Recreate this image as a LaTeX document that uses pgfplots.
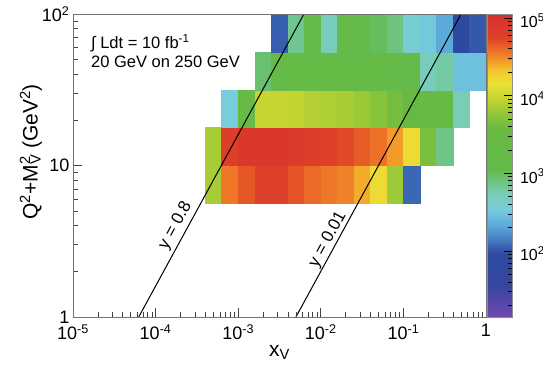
\documentclass[border=0pt]{standalone}
\usepackage{pgfplots}
\pgfplotsset{compat=1.18}
\usepackage{fontspec}
\setmainfont{Liberation Sans}

\pgfplotsset{colormap={rootpal}{
rgb255(0cm)=(112,75,178)
rgb255(2cm)=(85,70,168)
rgb255(4cm)=(55,70,160)
rgb255(8cm)=(45,75,160)
rgb255(9cm)=(55,95,175)
rgb255(10cm)=(70,125,195)
rgb255(12cm)=(95,175,220)
rgb255(14cm)=(120,205,220)
rgb255(16cm)=(120,205,180)
rgb255(18cm)=(105,192,110)
rgb255(19cm)=(100,187,75)
rgb255(24cm)=(105,185,65)
rgb255(26cm)=(140,197,58)
rgb255(28cm)=(195,212,50)
rgb255(30cm)=(232,224,55)
rgb255(31cm)=(242,212,50)
rgb255(32cm)=(245,190,45)
rgb255(33cm)=(242,155,40)
rgb255(34cm)=(238,120,40)
rgb255(35cm)=(232,92,40)
rgb255(36cm)=(222,65,42)
rgb255(39cm)=(212,48,45)
}}

\begin{document}
\begin{tikzpicture}
\begin{axis}[
  scale only axis, width=413pt, height=303pt,
  at={(0pt,0pt)}, anchor=south west,
  xmode=log, ymode=log,
  xmin=1e-5, xmax=1, ymin=1, ymax=100,
  axis on top,
  colormap name=rootpal,
  point meta min=1.15, point meta max=5.05,
  xtick={1e-5,1e-4,1e-3,1e-2,1e-1,1},
  xticklabels={10\textsuperscript{-5},10\textsuperscript{-4},10\textsuperscript{-3},10\textsuperscript{-2},10\textsuperscript{-1},1},
  ytick={1,10,100},
  yticklabels={1,10,10\textsuperscript{2}},
  tick align=inside, xtick pos=bottom, ytick pos=left,
  major tick length=9pt, minor tick length=5pt,
  tick style={black!75, line width=0.6pt},
  axis line style={black!55, line width=0.8pt},
  ticklabel style={font=\fontsize{18}{20}\selectfont},
  xticklabel style={yshift=-4pt},
  xlabel={x\textsubscript{V}},
  ylabel={Q\textsuperscript{2}+M\rlap{\textsuperscript{2}}\textsubscript{V} (GeV\textsuperscript{2})},
  every axis x label/.style={at={(axis description cs:0.5,-0.118)}, anchor=center, font=\fontsize{21}{24}\selectfont},
  every axis y label/.style={at={(axis description cs:-0.102,0.545)}, anchor=center, rotate=90, font=\fontsize{21}{24}\selectfont},
]
\addplot[patch, patch type=rectangle, shader=flat, point meta=explicit]
 table[x expr=10^(\thisrow{x}), y expr=10^(\thisrow{y}), meta=c, row sep=\\]{
x y c\\
-3.4 .75 3.85\\ -3.2 .75 3.85\\ -3.2 1 3.85\\ -3.4 1 3.85\\
-3.2 .75 4.55\\ -3.0 .75 4.55\\ -3.0 1 4.55\\ -3.2 1 4.55\\
-3.0 .75 4.67\\ -2.8 .75 4.67\\ -2.8 1 4.67\\ -3.0 1 4.67\\
-2.8 .75 4.75\\ -2.6 .75 4.75\\ -2.6 1 4.75\\ -2.8 1 4.75\\
-2.6 .75 4.75\\ -2.4 .75 4.75\\ -2.4 1 4.75\\ -2.6 1 4.75\\
-2.4 .75 4.68\\ -2.2 .75 4.68\\ -2.2 1 4.68\\ -2.4 1 4.68\\
-2.2 .75 4.60\\ -2.0 .75 4.60\\ -2.0 1 4.60\\ -2.2 1 4.60\\
-2.0 .75 4.55\\ -1.8 .75 4.55\\ -1.8 1 4.55\\ -2.0 1 4.55\\
-1.8 .75 4.52\\ -1.6 .75 4.52\\ -1.6 1 4.52\\ -1.8 1 4.52\\
-1.6 .75 4.40\\ -1.4 .75 4.40\\ -1.4 1 4.40\\ -1.6 1 4.40\\
-1.4 .75 4.20\\ -1.2 .75 4.20\\ -1.2 1 4.20\\ -1.4 1 4.20\\
-1.2 .75 3.82\\ -1.0 .75 3.82\\ -1.0 1 3.82\\ -1.2 1 3.82\\
-1.0 .75 2.08\\ -0.8 .75 2.08\\ -0.8 1 2.08\\ -1.0 1 2.08\\
-3.4 1 3.85\\ -3.2 1 3.85\\ -3.2 1.25 3.85\\ -3.4 1.25 3.85\\
-3.2 1 4.80\\ -3.0 1 4.80\\ -3.0 1.25 4.80\\ -3.2 1.25 4.80\\
-3.0 1 4.90\\ -2.8 1 4.90\\ -2.8 1.25 4.90\\ -3.0 1.25 4.90\\
-2.8 1 4.90\\ -2.6 1 4.90\\ -2.6 1.25 4.90\\ -2.8 1.25 4.90\\
-2.6 1 4.90\\ -2.4 1 4.90\\ -2.4 1.25 4.90\\ -2.6 1.25 4.90\\
-2.4 1 4.85\\ -2.2 1 4.85\\ -2.2 1.25 4.85\\ -2.4 1.25 4.85\\
-2.2 1 4.80\\ -2.0 1 4.80\\ -2.0 1.25 4.80\\ -2.2 1.25 4.80\\
-2.0 1 4.75\\ -1.8 1 4.75\\ -1.8 1.25 4.75\\ -2.0 1.25 4.75\\
-1.8 1 4.72\\ -1.6 1 4.72\\ -1.6 1.25 4.72\\ -1.8 1.25 4.72\\
-1.6 1 4.65\\ -1.4 1 4.65\\ -1.4 1.25 4.65\\ -1.6 1.25 4.65\\
-1.4 1 4.57\\ -1.2 1 4.57\\ -1.2 1.25 4.57\\ -1.4 1.25 4.57\\
-1.2 1 4.45\\ -1.0 1 4.45\\ -1.0 1.25 4.45\\ -1.2 1.25 4.45\\
-1.0 1 4.20\\ -0.8 1 4.20\\ -0.8 1.25 4.20\\ -1.0 1.25 4.20\\
-0.8 1 3.65\\ -0.6 1 3.65\\ -0.6 1.25 3.65\\ -0.8 1.25 3.65\\
-0.6 1 2.88\\ -0.4 1 2.88\\ -0.4 1.25 2.88\\ -0.6 1.25 2.88\\
-3.2 1.25 2.55\\ -3.0 1.25 2.55\\ -3.0 1.5 2.55\\ -3.2 1.5 2.55\\
-3.0 1.25 3.40\\ -2.8 1.25 3.40\\ -2.8 1.5 3.40\\ -3.0 1.5 3.40\\
-2.8 1.25 3.97\\ -2.6 1.25 3.97\\ -2.6 1.5 3.97\\ -2.8 1.5 3.97\\
-2.6 1.25 3.97\\ -2.4 1.25 3.97\\ -2.4 1.5 3.97\\ -2.6 1.5 3.97\\
-2.4 1.25 3.95\\ -2.2 1.25 3.95\\ -2.2 1.5 3.95\\ -2.4 1.5 3.95\\
-2.2 1.25 3.90\\ -2.0 1.25 3.90\\ -2.0 1.5 3.90\\ -2.2 1.5 3.90\\
-2.0 1.25 3.87\\ -1.8 1.25 3.87\\ -1.8 1.5 3.87\\ -2.0 1.5 3.87\\
-1.8 1.25 3.85\\ -1.6 1.25 3.85\\ -1.6 1.5 3.85\\ -1.8 1.5 3.85\\
-1.6 1.25 3.80\\ -1.4 1.25 3.80\\ -1.4 1.5 3.80\\ -1.6 1.5 3.80\\
-1.4 1.25 3.72\\ -1.2 1.25 3.72\\ -1.2 1.5 3.72\\ -1.4 1.5 3.72\\
-1.2 1.25 3.62\\ -1.0 1.25 3.62\\ -1.0 1.5 3.62\\ -1.2 1.5 3.62\\
-1.0 1.25 3.45\\ -0.8 1.25 3.45\\ -0.8 1.5 3.45\\ -1.0 1.5 3.45\\
-0.8 1.25 3.35\\ -0.6 1.25 3.35\\ -0.6 1.5 3.35\\ -0.8 1.5 3.35\\
-0.6 1.25 3.30\\ -0.4 1.25 3.30\\ -0.4 1.5 3.30\\ -0.6 1.5 3.30\\
-0.4 1.25 2.75\\ -0.2 1.25 2.75\\ -0.2 1.5 2.75\\ -0.4 1.5 2.75\\
-2.8 1.5 2.95\\ -2.6 1.5 2.95\\ -2.6 1.75 2.95\\ -2.8 1.75 2.95\\
-2.6 1.5 3.20\\ -2.4 1.5 3.20\\ -2.4 1.75 3.20\\ -2.6 1.75 3.20\\
-2.4 1.5 3.30\\ -2.2 1.5 3.30\\ -2.2 1.75 3.30\\ -2.4 1.75 3.30\\
-2.2 1.5 3.30\\ -2.0 1.5 3.30\\ -2.0 1.75 3.30\\ -2.2 1.75 3.30\\
-2.0 1.5 3.30\\ -1.8 1.5 3.30\\ -1.8 1.75 3.30\\ -2.0 1.75 3.30\\
-1.8 1.5 3.30\\ -1.6 1.5 3.30\\ -1.6 1.75 3.30\\ -1.8 1.75 3.30\\
-1.6 1.5 3.30\\ -1.4 1.5 3.30\\ -1.4 1.75 3.30\\ -1.6 1.75 3.30\\
-1.4 1.5 3.30\\ -1.2 1.5 3.30\\ -1.2 1.75 3.30\\ -1.4 1.75 3.30\\
-1.2 1.5 3.25\\ -1.0 1.5 3.25\\ -1.0 1.75 3.25\\ -1.2 1.75 3.25\\
-1.0 1.5 3.10\\ -0.8 1.5 3.10\\ -0.8 1.75 3.10\\ -1.0 1.75 3.10\\
-0.8 1.5 2.72\\ -0.6 1.5 2.72\\ -0.6 1.75 2.72\\ -0.8 1.75 2.72\\
-0.6 1.5 2.80\\ -0.4 1.5 2.80\\ -0.4 1.75 2.80\\ -0.6 1.75 2.80\\
-0.4 1.5 2.47\\ -0.2 1.5 2.47\\ -0.2 1.75 2.47\\ -0.4 1.75 2.47\\
-0.2 1.5 2.47\\ 0.0 1.5 2.47\\ 0.0 1.75 2.47\\ -0.2 1.75 2.47\\
-2.6 1.75 2.05\\ -2.4 1.75 2.05\\ -2.4 2 2.05\\ -2.6 2 2.05\\
-2.4 1.75 2.85\\ -2.2 1.75 2.85\\ -2.2 2 2.85\\ -2.4 2 2.85\\
-2.2 1.75 3.10\\ -2.0 1.75 3.10\\ -2.0 2 3.10\\ -2.2 2 3.10\\
-2.0 1.75 2.72\\ -1.8 1.75 2.72\\ -1.8 2 2.72\\ -2.0 2 2.72\\
-1.8 1.75 3.15\\ -1.6 1.75 3.15\\ -1.6 2 3.15\\ -1.8 2 3.15\\
-1.6 1.75 3.10\\ -1.4 1.75 3.10\\ -1.4 2 3.10\\ -1.6 2 3.10\\
-1.4 1.75 3.00\\ -1.2 1.75 3.00\\ -1.2 2 3.00\\ -1.4 2 3.00\\
-1.2 1.75 2.90\\ -1.0 1.75 2.90\\ -1.0 2 2.90\\ -1.2 2 2.90\\
-1.0 1.75 2.60\\ -0.8 1.75 2.60\\ -0.8 2 2.60\\ -1.0 2 2.60\\
-0.8 1.75 2.52\\ -0.6 1.75 2.52\\ -0.6 2 2.52\\ -0.8 2 2.52\\
-0.6 1.75 2.33\\ -0.4 1.75 2.33\\ -0.4 2 2.33\\ -0.6 2 2.33\\
-0.4 1.75 1.90\\ -0.2 1.75 1.90\\ -0.2 2 1.90\\ -0.4 2 1.90\\
-0.2 1.75 2.02\\ 0.0 1.75 2.02\\ 0.0 2 2.02\\ -0.2 2 2.02\\
};
\addplot[black, line width=1pt] coordinates {(6.25e-5,1) (6.25e-3,100)};
\addplot[black, line width=1pt] coordinates {(5e-3,1) (0.5,100)};
\node[rotate=61.4, anchor=south, inner sep=3.5pt, font=\fontsize{17}{19}\selectfont] at (axis cs:2.31e-4,3.70) {y = 0.8};
\node[rotate=61.4, anchor=south, inner sep=1pt, font=\fontsize{17}{19}\selectfont] at (axis cs:0.0152,3.04) {y = 0.01};
\node[anchor=west, inner sep=0pt, font=\fontsize{16.5}{19}\selectfont] at (axis description cs:0.0436,0.904) {∫ Ldt = 10 fb\textsuperscript{-1}};
\node[anchor=west, inner sep=0pt, font=\fontsize{16.5}{19}\selectfont] at (axis description cs:0.0436,0.842) {20 GeV on 250 GeV};
\end{axis}
% colour scale, drawn as its own small axis
\begin{axis}[
  scale only axis, width=25pt, height=303pt,
  at={(414pt,0pt)}, anchor=south west,
  xmin=0, xmax=1, ymin=1.15, ymax=5.05,
  axis on top,
  colormap name=rootpal,
  point meta min=1.15, point meta max=5.05,
  xtick=\empty,
  ytick={2,3,4,5},
  yticklabels={10\textsuperscript{2},10\textsuperscript{3},10\textsuperscript{4},10\textsuperscript{5}},
  minor ytick={1.301,1.477,1.602,1.699,1.778,1.845,1.903,1.954,
               2.301,2.477,2.602,2.699,2.778,2.845,2.903,2.954,
               3.301,3.477,3.602,3.699,3.778,3.845,3.903,3.954,
               4.301,4.477,4.602,4.699,4.778,4.845,4.903,4.954},
  tick align=inside, ytick pos=right, yticklabel pos=right,
  major tick length=8pt, minor tick length=4.5pt,
  tick style={black, line width=0.7pt},
  axis line style={black!45},
  yticklabel shift=4.5pt,
  yticklabel style={font=\fontsize{16}{18}\selectfont, yshift=-3pt},
]
\addplot[patch, patch type=rectangle, shader=interp, point meta=y]
  coordinates {(0,1.15) (1,1.15) (1,5.05) (0,5.05)};
\end{axis}
\pgfresetboundingbox
\path (-73pt,-50pt) rectangle (470pt,317pt);
\end{tikzpicture}
\end{document}
